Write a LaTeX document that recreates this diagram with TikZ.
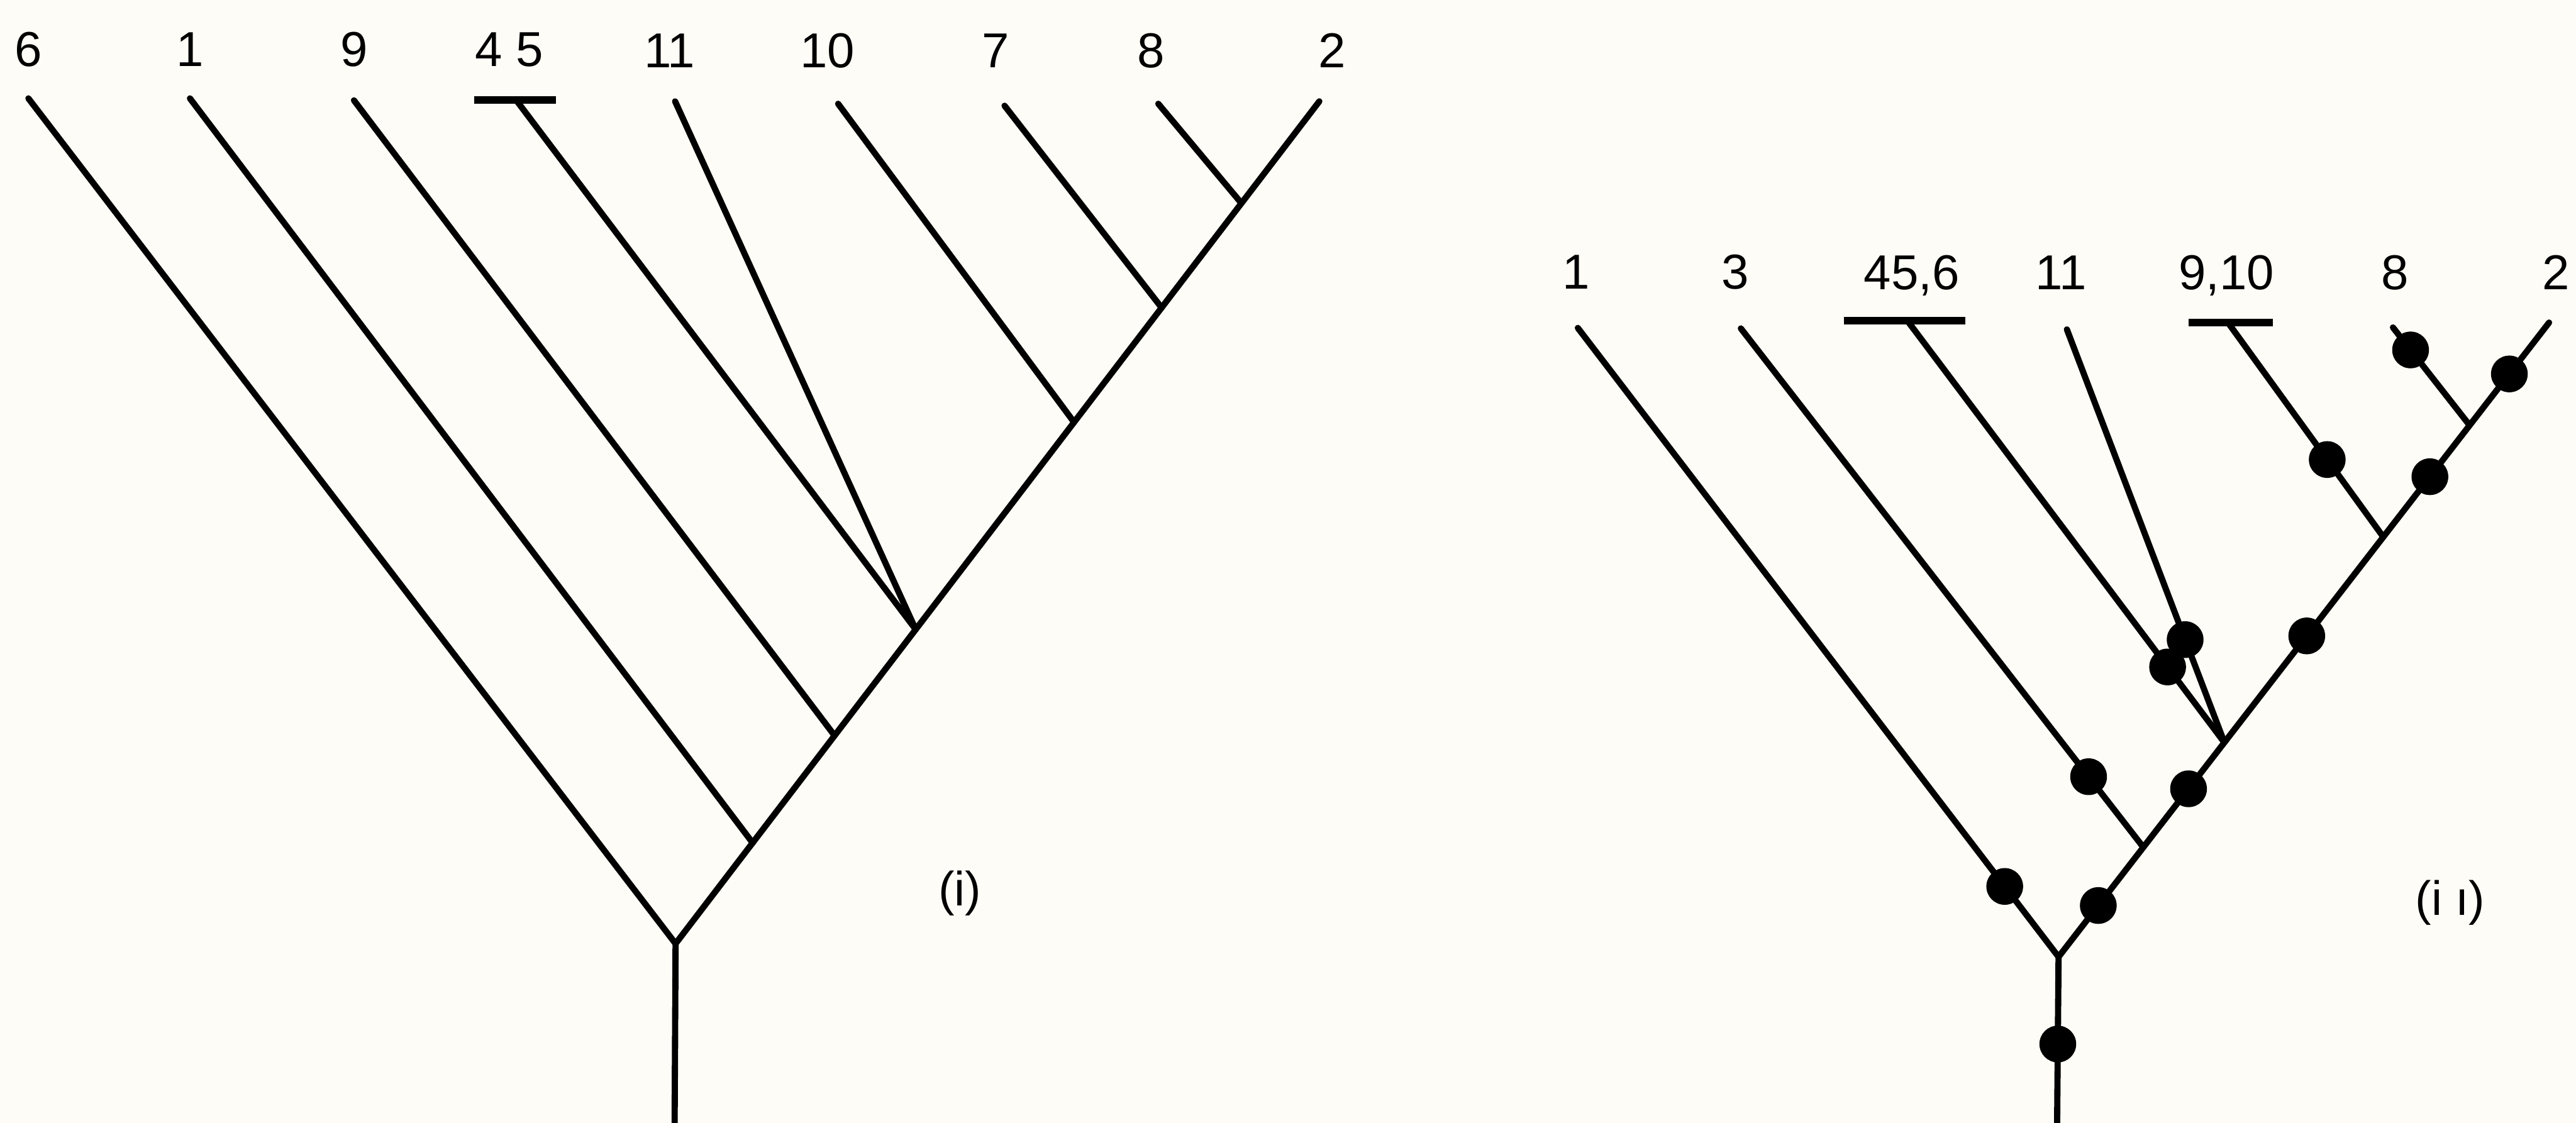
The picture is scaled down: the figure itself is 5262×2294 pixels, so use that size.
\documentclass[tikz,border=0pt]{standalone}
\usepackage{fontspec}
\setmainfont{Liberation Sans}
\usetikzlibrary{calc}
\definecolor{paper}{RGB}{253,252,246}
\begin{document}
\begin{tikzpicture}[x=0.01cm,y=-0.01cm,
  branch/.style={line width=3.6pt, line cap=round, line join=round},
  tipbar/.style={line width=4.2pt},
  lab/.style={anchor=base, inner sep=0pt, font=\fontsize{28.5}{34}\selectfont},
  caption/.style={inner sep=0pt, font=\fontsize{28}{34}\selectfont},
  dot/.style={circle, fill=black, inner sep=0pt, minimum size=0.75cm}]
\fill[paper] (0,0) rectangle (5262,2294);
\useasboundingbox (0,0) rectangle (5262,2294);

% ---------------- left tree (i) ----------------
\coordinate (L6) at (58,201);
\coordinate (L1) at (388,201);
\coordinate (L9) at (723,205);
\coordinate (L45) at (1054,204);
\coordinate (L45a) at (969,204);
\coordinate (L45b) at (1136,204);
\coordinate (L11) at (1379,207);
\coordinate (L10) at (1712,212);
\coordinate (L7) at (2052,216);
\coordinate (L8) at (2366,212);
\coordinate (L2) at (2695,207);
\coordinate (Lroot) at (1380,1928);
\coordinate (Lbase) at (1378,2300);
\coordinate (Lj1) at ($(Lroot)!0.1197!(L2)$);
\coordinate (Lj9) at ($(Lroot)!0.247!(L2)$);
\coordinate (Lj45) at ($(Lroot)!0.373!(L2)$);
\coordinate (Lj10) at ($(Lroot)!0.619!(L2)$);
\coordinate (Lj7) at ($(Lroot)!0.755!(L2)$);
\coordinate (Lj8) at ($(Lroot)!0.879!(L2)$);

\draw[branch] (Lbase) -- (Lroot) -- (L2);
\draw[branch] (L6) -- (Lroot);
\draw[branch] (L1) -- (Lj1);
\draw[branch] (L9) -- (Lj9);
\draw[branch] (L45) -- (Lj45);
\draw[branch] (L11) -- (Lj45);
\draw[branch] (L10) -- (Lj10);
\draw[branch] (L7) -- (Lj7);
\draw[branch] (L8) -- (Lj8);
\draw[tipbar] (L45a) -- (L45b);

\node[lab] (tl6) at (58,136) {6};
\node[lab] (tl1) at (388,136) {1};
\node[lab] (tl9) at (723,136) {9};
\node[lab] (tl45) at (1040,136) {4 5};
\node[lab] (tl11) at (1368,138) {11};
\node[lab] (tl10) at (1690,138) {10};
\node[lab] (tl7) at (2034,138) {7};
\node[lab] (tl8) at (2351,138) {8};
\node[lab] (tl2) at (2721,138) {2};
\node[caption] (capi) at (1961,1825) {(i)};

% ---------------- right tree (ii) ----------------
\coordinate (R1) at (3223,670);
\coordinate (R3) at (3556,671);
\coordinate (R45) at (3896,655);
\coordinate (R45a) at (3766,655);
\coordinate (R45b) at (4015,655);
\coordinate (R11) at (4222,673);
\coordinate (R910) at (4551,659);
\coordinate (R910a) at (4471,659);
\coordinate (R910b) at (4643,659);
\coordinate (R8) at (4888,669);
\coordinate (R2) at (5207,659);
\coordinate (Rroot) at (4205,1955);
\coordinate (Rbase) at (4202,2300);
\coordinate (Rj3) at ($(Rroot)!0.1728!(R2)$);
\coordinate (Rj45) at ($(Rroot)!0.338!(R2)$);
\coordinate (Rj910) at ($(Rroot)!0.662!(R2)$);
\coordinate (Rj8) at ($(Rroot)!0.838!(R2)$);

\draw[branch] (Rbase) -- (Rroot) -- (R2);
\draw[branch] (R1) -- (Rroot);
\draw[branch] (R3) -- (Rj3);
\draw[branch] (R45) -- (Rj45);
\draw[branch] (R11) -- (Rj45);
\draw[branch] (R910) -- (Rj910);
\draw[branch] (R8) -- (Rj8);
\draw[tipbar] (R45a) -- (R45b);
\draw[tipbar] (R910a) -- (R910b);

% character-state dots
\node[dot] (ds1) at ($(Rroot)!0.081!(R2)$) {};
\node[dot] (ds2) at ($(Rroot)!0.265!(R2)$) {};
\node[dot] (ds3) at ($(Rroot)!0.506!(R2)$) {};
\node[dot] (ds4) at ($(Rroot)!0.757!(R2)$) {};
\node[dot] (ds5) at ($(Rroot)!0.919!(R2)$) {};
\node[dot] (db1) at ($(Rroot)!0.112!(R1)$) {};
\node[dot] (db3) at ($(Rj3)!0.136!(R3)$) {};
\node[dot] (db45) at ($(Rj45)!0.179!(R45)$) {};
\node[dot] (db11) at ($(Rj45)!0.249!(R11)$) {};
\node[dot] (db910) at ($(Rj910)!0.361!(R910)$) {};
\node[dot] (db8) at ($(Rj8)!0.77!(R8)$) {};
\node[dot] (droot) at ($(Rroot)!0.516!(Rbase)$) {};

\node[lab] (tr1) at (3220,590) {1};
\node[lab] (tr3) at (3544,590) {3};
\node[lab] (tr45) at (3905,592) {45,6};
\node[lab] (tr11) at (4210,592) {11};
\node[lab] (tr910) at (4548,592) {9,10};
\node[lab] (tr8) at (4892,592) {8};
\node[lab] (tr2) at (5221,592) {2};
\node[caption] (capii) at (5005,1844) {(i ı)};
\end{tikzpicture}
\end{document}
